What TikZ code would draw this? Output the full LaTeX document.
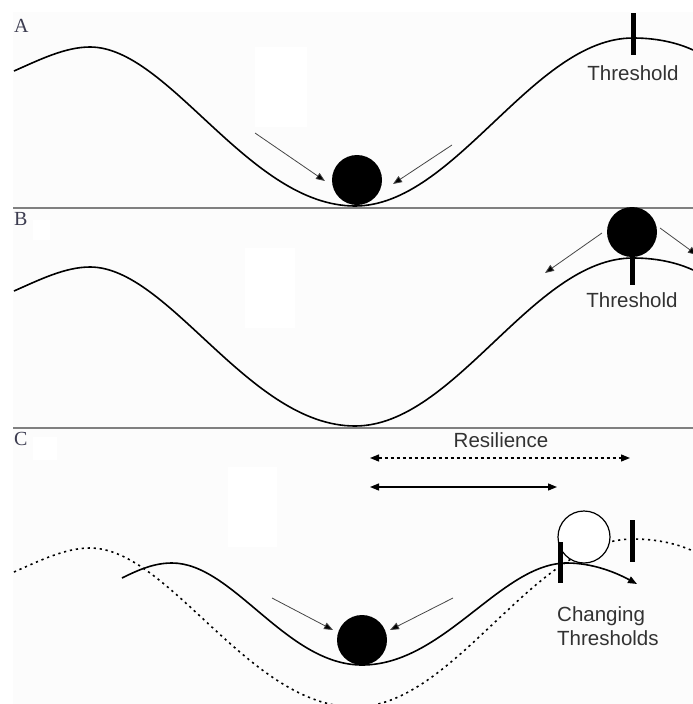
\documentclass[tikz,border=0pt]{standalone}
\usepackage{fontspec}
\setmainfont{Liberation Sans}
\newfontfamily\panelfont{Liberation Serif}
\usetikzlibrary{arrows.meta}
\definecolor{bgc}{RGB}{252,252,252}
\definecolor{sepgray}{RGB}{128,128,128}
\definecolor{arrowgray}{RGB}{70,70,70}
\definecolor{textgray}{RGB}{50,50,50}
\definecolor{panelcol}{RGB}{60,60,80}
\tikzset{
  curve/.style={line width=1.6pt, draw=black},
  dotline/.style={line width=2pt, dash pattern=on 2.2pt off 3.8pt},
  sep/.style={line width=1.3pt, draw=sepgray},
  fall/.style={line width=0.8pt, draw=arrowgray, -{Triangle[length=9pt,width=7pt,fill=black]}},
  bar/.style={line width=5pt, draw=black},
  ball/.style={circle, fill=black, minimum size=50pt, inner sep=0pt},
  openball/.style={circle, draw=black, fill=white, line width=1.2pt, minimum size=52pt, inner sep=0pt},
  lbl/.style={font=\fontsize{20.5}{24}\selectfont, text=textgray, inner sep=0pt},
  panellbl/.style={font=\panelfont\fontsize{20}{24}\selectfont, text=panelcol, inner sep=0pt, anchor=base west},
  resarrow/.style={line width=1.3pt, {Triangle[length=9pt,width=7pt]}-{Triangle[length=9pt,width=7pt]}},
  landscape/.pic={
    \draw[curve, pic actions] (14,71) .. controls (39,60) and (65,47) .. (90,47)
      .. controls (169,47) and (249,206) .. (355,206)
      .. controls (455,206) and (533,38) .. (633,38)
      .. controls (660,38) and (680,44) .. (693,50);
  }
}
\begin{document}
\begin{tikzpicture}[x=1pt,y=-1pt]
\useasboundingbox (0,0) rectangle (693,704);
\clip (0,0) rectangle (693,704);
% background and faint white patches
\fill[bgc] (13,12) rectangle (693,704);
\fill[white] (255,47) rectangle (307,127);
\fill[white] (245,248) rectangle (295,328);
\fill[white] (33,220) rectangle (50,240);
\fill[white] (228,467) rectangle (277,547);
\fill[white] (33,437) rectangle (57,460);
% separators
\draw[sep] (13,208) -- (693,208);
\draw[sep] (13,428) -- (693,428);
% panel labels
\node[panellbl] (labA) at (14,32) {A};
\node[panellbl] (labB) at (14,225) {B};
\node[panellbl] (labC) at (14,445) {C};

% ---------- Panel A ----------
\pic (landA) at (0,0) {landscape};
\node[ball] (ballA) at (357,180) {};
\coordinate (aL0) at (255,133); \coordinate (aL1) at (325,181);
\coordinate (aR0) at (452,145); \coordinate (aR1) at (393,184);
\draw[fall] (aL0) -- (aL1);
\draw[fall] (aR0) -- (aR1);
\coordinate (thA0) at (633,13); \coordinate (thA1) at (633,55);
\draw[bar] (thA0) -- (thA1);
\node[lbl] (thresA) at (633,73) {Threshold};

% ---------- Panel B ----------
\pic (landB) at (0,220) {landscape};
\coordinate (thB0) at (632,250); \coordinate (thB1) at (632,285);
\draw[bar] (thB0) -- (thB1);
\node[ball] (ballB) at (632,232) {};
\coordinate (bL0) at (602,233); \coordinate (bL1) at (545,273);
\coordinate (bR0) at (660,228); \coordinate (bR1) at (697,255);
\draw[fall] (bL0) -- (bL1);
\draw[fall] (bR0) -- (bR1);
\node[lbl] (thresB) at (632,300) {Threshold};

% ---------- Panel C ----------
\pic[dotline] (landC) at (0,501) {landscape};
\draw[curve, -{Triangle[length=9pt,width=7pt]}] (122,578) .. controls (140,569) and (155,563) .. (172,563)
  .. controls (233,563) and (286,665) .. (362,665)
  .. controls (444,665) and (501,563) .. (567,563)
  .. controls (592,563) and (615,572) .. (637,584);
\node[ball] (ballC) at (362,640) {};
\node[openball] (openC) at (584,537) {};
\coordinate (thC0) at (560,542); \coordinate (thC1) at (560,583);
\coordinate (thD0) at (632,520); \coordinate (thD1) at (632,562);
\draw[bar] (thC0) -- (thC1);
\draw[bar] (thD0) -- (thD1);
\coordinate (cL0) at (272,598); \coordinate (cL1) at (333,630);
\coordinate (cR0) at (453,598); \coordinate (cR1) at (390,630);
\draw[fall] (cL0) -- (cL1);
\draw[fall] (cR0) -- (cR1);
\node[lbl] (resil) at (501,440) {Resilience};
\coordinate (r1L) at (370,458); \coordinate (r1R) at (630,458);
\coordinate (r2L) at (370,487); \coordinate (r2R) at (557,487);
\draw[resarrow, dash pattern=on 3pt off 3pt] (r1L) -- (r1R);
\draw[resarrow] (r2L) -- (r2R);
\node[lbl, align=left, anchor=north west] (chg) at (557,606) {Changing\\Thresholds};
\end{tikzpicture}
\end{document}
